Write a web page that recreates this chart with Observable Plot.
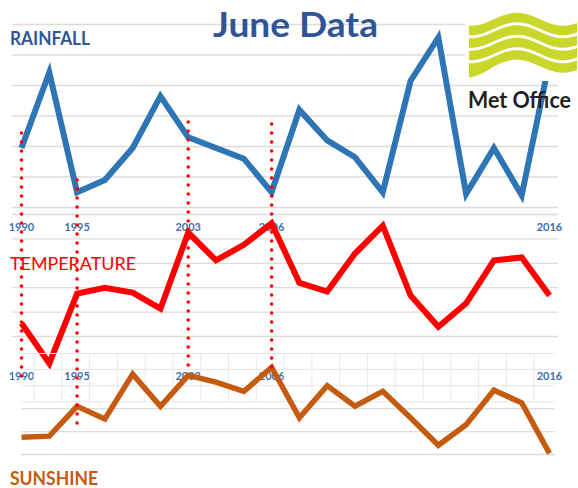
<!DOCTYPE html>
<html><head><meta charset="utf-8">
<script src="https://cdn.jsdelivr.net/npm/d3@7"></script>
<script src="https://cdn.jsdelivr.net/npm/@observablehq/plot@0.6"></script>
<style>
html,body{margin:0;padding:0;background:#fff;}
#chart{position:relative;width:578px;height:488px;overflow:hidden;}
#chart > svg{position:absolute;left:0;top:0;}
</style></head><body><div id="chart"></div>
<script>
// ---- data ----
const points = [0,1,2,3,4,5,6,7,8,9,10,11,12,13,14,15,16,17,18,19];
const tickIdx = [0, 2, 6, 9, 19];
const tickLabels = ["1990", "1995", "2003", "2006", "2016"];
const rainfall = [79,128.5,50,58,79,113,86,79,72,50,104,84,73,50,123,151.5,49,79,48,136];
const temperature = [13.27,12.45,13.88,14.0,13.9,13.57,15.13,14.56,14.88,15.32,14.1,13.92,14.7,15.27,13.84,13.2,13.68,14.56,14.62,13.84];
const sunshine = [155,156,182,171,210,182,209,203,195,216,172,200,182,195,172,148,166,196,185,141];
const markIdx = [0, 2, 6, 9];
const markTop = [88.5, 57.7, 95.7, 94.4];      // rainfall units
const markBottom = [-72, -104, -67, -68];      // rainfall units (extended)
const rainTicks = [40,60,80,100,120,140,160];
const tempTicks = [13,13.5,14,14.5,15,15.5];
const sunTicks = [140,160,180];
const sunMinor = [186,200,214,228];
const sunMinorX = [0.45,1.45,2.45,3.45,4.45,5.45,6.45,7.45,8.45,9.45,10.45,11.45,12.45,13.45,14.45,15.45,16.45,17.45,18.45];

const W = 578, H = 488;
const FONT = "Lato, 'Open Sans', sans-serif";
const base = {width: W, height: H, marginLeft: 21, marginRight: 29,
  x: {domain: [0, 19], axis: null},
  style: {background: "transparent", overflow: "visible"}};
const GRID = "#dcdcdc";
const labelOpts = (dy) => ({x: d => d, frameAnchor: "bottom", dy, lineAnchor: "middle",
  text: (d, i) => tickLabels[i], fill: "#3d6fb0", fontWeight: "bold", fontSize: 11, fontFamily: FONT});
const lineOpts = (stroke, w) => ({x: (d, i) => points[i], y: d => d, stroke, strokeWidth: w,
  strokeLinejoin: "miter", strokeMiterlimit: 4, strokeLinecap: "butt"});

const rainPlot = Plot.plot({...base, marginTop: 24, marginBottom: H - 207,
  y: {domain: [40, 160], axis: null},
  marks: [
    Plot.ruleY(rainTicks, {stroke: GRID, strokeWidth: 1.3, insetLeft: -9, insetRight: -9}),
    Plot.text(tickIdx, labelOpts(20)),
    Plot.line(rainfall, lineOpts("#2e75b6", 6))
  ]});

const tempPlot = Plot.plot({...base, marginTop: 214, marginBottom: H - 336,
  y: {domain: [13, 15.5], axis: null},
  marks: [
    Plot.ruleY(tempTicks, {stroke: GRID, strokeWidth: 1.3, insetLeft: -9, insetRight: -9}),
    Plot.text(tickIdx, labelOpts(40)),
    Plot.line(temperature, lineOpts("#ff0000", 6))
  ]});

const sunPlot = Plot.plot({...base, marginTop: 353, marginBottom: H - 454,
  y: {domain: [140, 228], axis: null},
  marks: [
    Plot.ruleY(sunMinor, {stroke: "#e6e6e6", strokeWidth: 1, insetRight: -6}),
    Plot.ruleX(sunMinorX, {y1: 186, y2: 228, stroke: "#e9e9e9", strokeWidth: 1}),
    Plot.ruleY(sunTicks, {stroke: GRID, strokeWidth: 1.3, insetRight: -6}),
    Plot.line(sunshine, lineOpts("#c55a11", 5.5))
  ]});

const chart = document.getElementById("chart");
chart.append(rainPlot, tempPlot, sunPlot);

// decorations: titles and logo
const ns = "http://www.w3.org/2000/svg";
const deco = d3.create("svg").attr("width", W).attr("height", H).attr("xmlns", ns)
  .style("position", "absolute").style("left", 0).style("top", 0);
function label(txt, x, y, size, weight, fill, len, anchor) {
  deco.append("text").attr("x", x).attr("y", y).attr("font-family", FONT)
    .attr("font-size", size).attr("font-weight", weight).attr("fill", fill)
    .attr("text-anchor", anchor || "start")
    .attr("textLength", len).attr("lengthAdjust", "spacingAndGlyphs").text(txt);
}
label("June Data", 295.5, 37, 35, "bold", "#2f5597", 165, "middle");
label("RAINFALL", 10, 45, 18, "bold", "#2f5597", 80);
label("TEMPERATURE", 10, 270, 18, "normal", "#ff0000", 126);
label("SUNSHINE", 10, 485, 19, "bold", "#c55a11", 88);

// logo
deco.append("rect").attr("x", 465).attr("y", 9).attr("width", 113).attr("height", 72).attr("fill", "#fff");
const bases = [24, 36.5, 49, 61.5];
bases.forEach((b, k) => {
  const top = [], bot = [];
  for (let x = 469; x <= 578; x += 2) {
    const c = b - 6.5 * Math.cos(2 * Math.PI * (x - 517) / 92);
    const extra = k === 3 ? Math.max(0, (495 - x) * 0.18) : 0;
    top.push([x, c - 4.8]); bot.push([x, c + 4.8 + extra]);
  }
  const pts = top.concat(bot.reverse());
  deco.append("path").attr("d", "M" + pts.map(p => p.join(",")).join("L") + "Z").attr("fill", "#c9d62a");
});
label("Met Office", 468, 108, 22, "bold", "#231f20", 103);
chart.append(deco.node());

const dots = Plot.plot({...base, marginTop: 24, marginBottom: H - 207,
  y: {domain: [40, 160], axis: null},
  marks: [
    Plot.ruleX(markIdx, {x: d => d, y1: (d, i) => markTop[i], y2: (d, i) => markBottom[i],
      stroke: "#ff0000", strokeWidth: 3.6, strokeDasharray: "0 9", strokeLinecap: "round"})
  ]});
chart.append(dots);
</script></body></html>
